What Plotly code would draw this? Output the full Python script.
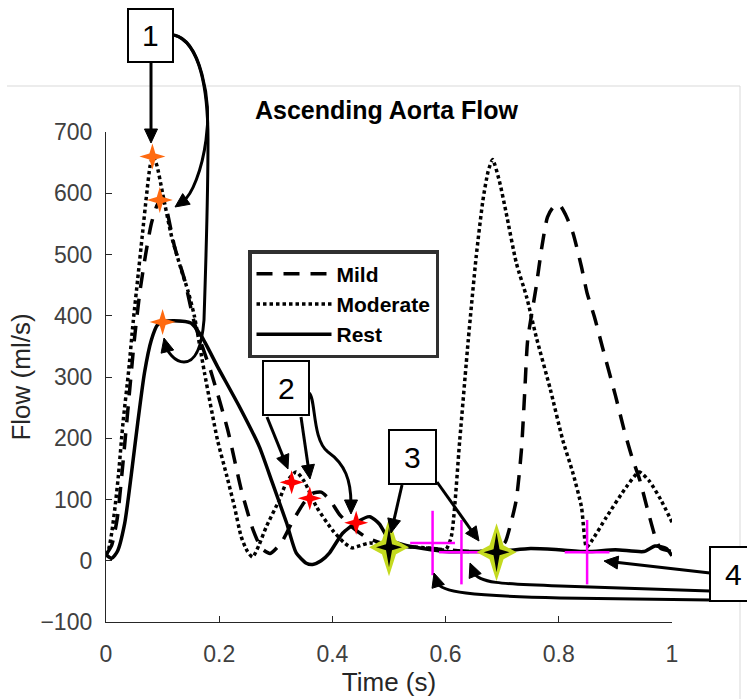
import math
import plotly.graph_objects as go

# ---- flow waveforms (ml/s) over one cardiac cycle ----
mild_t = [0.0, 0.01, 0.02, 0.03, 0.04, 0.05, 0.06, 0.07, 0.08, 0.09, 0.097, 0.105,
          0.121, 0.139, 0.156, 0.186, 0.215, 0.239, 0.26, 0.275, 0.29, 0.31, 0.33,
          0.35, 0.365, 0.38, 0.395, 0.413, 0.435, 0.46, 0.5, 0.55, 0.6, 0.65, 0.69,
          0.705, 0.715, 0.725, 0.734, 0.74, 0.745, 0.76, 0.77, 0.78, 0.79, 0.801,
          0.812, 0.825, 0.84, 0.85, 0.863, 0.877, 0.9, 0.915, 0.929, 0.943, 0.957,
          0.972, 0.98, 1.0]
mild_flow = [10, 25, 70, 160, 260, 360, 440, 500, 550, 580, 590, 580,
             513, 458, 389, 307, 214, 116, 50, 20, 12, 30, 65,
             95, 110, 112, 100, 75, 55, 38, 25, 22, 18, 15, 18,
             30, 60, 100, 181, 279, 360, 447, 512, 561, 577, 581,
             565, 535, 480, 437, 398, 349, 270, 215, 170, 132, 83,
             34, 20, 15]

moderate_t = [0.0, 0.005, 0.01, 0.016, 0.022, 0.03, 0.04, 0.048, 0.056, 0.064, 0.072,
              0.078, 0.083, 0.09, 0.1, 0.116, 0.133, 0.145, 0.156, 0.174, 0.197,
              0.213, 0.227, 0.239, 0.25, 0.259, 0.27, 0.283, 0.306, 0.32, 0.336,
              0.35, 0.372, 0.4, 0.42, 0.435, 0.45, 0.466, 0.5, 0.55, 0.58, 0.6,
              0.61, 0.625, 0.64, 0.654, 0.666, 0.675, 0.683, 0.695, 0.707, 0.725,
              0.743, 0.76, 0.785, 0.807, 0.825, 0.84, 0.849, 0.86, 0.884, 0.919,
              0.942, 0.96, 0.98, 1.0]
moderate_flow = [9, 20, 45, 88, 140, 225, 310, 390, 460, 530, 600,
                 645, 660, 645, 600, 529, 475, 440, 400, 307, 197,
                 140, 88, 39, 15, 6, 25, 55, 99, 130, 145,
                 130, 88, 50, 30, 21, 25, 29, 25, 22, 20, 18,
                 39, 197, 360, 496, 589, 635, 655, 620, 568, 486,
                 431, 366, 280, 197, 143, 88, 22, 35, 71, 120,
                 145, 130, 100, 63]

rest_t = [0.0, 0.01, 0.02, 0.033, 0.045, 0.056, 0.068, 0.08, 0.091, 0.1, 0.12,
          0.15, 0.169, 0.197, 0.236, 0.271, 0.294, 0.319, 0.336, 0.354, 0.365,
          0.38, 0.395, 0.418, 0.443, 0.466, 0.483, 0.5, 0.53, 0.56, 0.6, 0.65,
          0.7, 0.75, 0.8, 0.85, 0.9, 0.95, 0.97, 0.99, 1.0]
rest_flow = [10, 4, 15, 61, 143, 225, 307, 360, 385, 390, 392,
             388, 366, 317, 251, 186, 127, 62, 13, -4, -6,
             0, 13, 45, 63, 72, 60, 35, 25, 20, 15, 15,
             16, 20, 18, 15, 18, 15, 24, 20, 8]

# ---- highlighted feature points ----
peak_t = [0.082, 0.095, 0.10]
peak_flow = [660, 589, 390]
notch_t = [0.328, 0.36, 0.442]
notch_flow = [128, 102, 62]
valve_t = [0.50, 0.69]
valve_flow = [22, 14]
cycle_t = [0.577, 0.628, 0.85]
cycle_flow = [29, 14, 14]

x_ticks = [0, 0.2, 0.4, 0.6, 0.8, 1]
x_tick_text = ["0", "0.2", "0.4", "0.6", "0.8", "1"]
y_ticks = [-100, 0, 100, 200, 300, 400, 500, 600, 700]

# ---- page geometry ----
W, H = 747, 699
ML, MR, MT, MB = 106, 75, 132, 77
PW, PH = W - ML - MR, H - MT - MB
FONT = "Liberation Sans, Arial, sans-serif"


def px(x):
    return (x - ML) / PW


def py(y):
    return (MT + PH - y) / PH


def pt(x, y):
    return f"{px(x):.5f},{py(y):.5f}"


fig = go.Figure()

line_w = 3.5
fig.add_trace(go.Scatter(x=mild_t, y=mild_flow, mode="lines", name="Mild",
                         line=dict(color="black", width=line_w, dash="16px,11px",
                                   shape="spline", smoothing=0.6)))
fig.add_trace(go.Scatter(x=moderate_t, y=moderate_flow, mode="lines", name="Moderate",
                         line=dict(color="black", width=line_w, dash="3.5px,3px",
                                   shape="spline", smoothing=0.6)))
fig.add_trace(go.Scatter(x=rest_t, y=rest_flow, mode="lines", name="Rest",
                         line=dict(color="black", width=line_w,
                                   shape="spline", smoothing=0.6)))

# plus markers at the end-of-cycle points (tall vertical stroke, shorter bar)
fig.add_trace(go.Scatter(x=cycle_t, y=cycle_flow, mode="markers", showlegend=False,
                         marker=dict(symbol="line-ns", size=46, color="#FF00FF",
                                     line=dict(width=2.5, color="#FF00FF"))))
fig.add_trace(go.Scatter(x=cycle_t, y=cycle_flow, mode="markers", showlegend=False,
                         marker=dict(symbol="line-ew", size=32, color="#FF00FF",
                                     line=dict(width=2.5, color="#FF00FF"))))

shapes = []
annotations = []

# light figure frame
shapes.append(dict(type="line", xref="paper", yref="paper", x0=px(7), y0=py(86),
                   x1=px(740), y1=py(86), line=dict(color="#D9D9D9", width=1),
                   layer="below"))
shapes.append(dict(type="line", xref="paper", yref="paper", x0=px(740), y0=py(86),
                   x1=px(740), y1=py(699), line=dict(color="#D9D9D9", width=1),
                   layer="below"))


def add_stars(ts, vs, rx, ry, ri, color):
    """Thin four-point stars anchored at data points, sized in pixels."""
    path = (f"M 0,{-ry} L {ri},{-ri} L {rx},0 L {ri},{ri} L 0,{ry} "
            f"L {-ri},{ri} L {-rx},0 L {-ri},{-ri} Z")
    for t, v in zip(ts, vs):
        shapes.append(dict(type="path", xref="x", yref="y",
                           xsizemode="pixel", ysizemode="pixel",
                           xanchor=t, yanchor=v, path=path,
                           fillcolor=color, line=dict(width=0), layer="above"))


add_stars(peak_t, peak_flow, 13, 13, 3, "#FF6A10")
add_stars(notch_t, notch_flow, 12, 12, 2.8, "#FF0000")
add_stars(valve_t, valve_flow, 20, 29, 7, "#C4DA1F")
add_stars(valve_t, valve_flow, 13, 20, 3, "#000000")


def add_arrow(segs, head=14, half=6.5):
    """segs: ('M',x,y), ('L',x,y), ('C',x1,y1,x2,y2,x,y) in pixel units."""
    segs = [list(s) for s in segs]
    last = segs[-1]
    if last[0] == "L":
        prev = segs[-2][-2:]
    else:
        prev = last[3:5]
    ex, ey = last[-2], last[-1]
    dx, dy = ex - prev[0], ey - prev[1]
    n = math.hypot(dx, dy)
    ux, uy = dx / n, dy / n
    bx, by = ex - ux * head, ey - uy * head
    last[-2], last[-1] = ex - ux * head * 0.7, ey - uy * head * 0.7
    parts = []
    for s in segs:
        if s[0] in ("M", "L"):
            parts.append(f"{s[0]} {pt(s[1], s[2])}")
        else:
            parts.append(f"C {pt(s[1], s[2])} {pt(s[3], s[4])} {pt(s[5], s[6])}")
    shapes.append(dict(type="path", xref="paper", yref="paper", path=" ".join(parts),
                       line=dict(color="black", width=3), layer="above"))
    tri = (f"M {pt(ex, ey)} L {pt(bx - uy * half, by + ux * half)} "
           f"L {pt(bx + uy * half, by - ux * half)} Z")
    shapes.append(dict(type="path", xref="paper", yref="paper", path=tri,
                       fillcolor="black", line=dict(color="black", width=1),
                       layer="above"))


def add_box(x0, y0, x1, y1, label):
    shapes.append(dict(type="rect", xref="paper", yref="paper", x0=px(x0), y0=py(y0),
                       x1=px(x1), y1=py(y1), fillcolor="white",
                       line=dict(color="black", width=2), layer="above"))
    annotations.append(dict(xref="paper", yref="paper", x=px((x0 + x1) / 2),
                            y=py((y0 + y1) / 2), text=label, showarrow=False,
                            xanchor="center", yanchor="middle",
                            font=dict(family=FONT, size=30, color="black")))


# callout 1: systolic peaks
add_arrow([("M", 151, 62), ("L", 151, 143)])
add_arrow([("M", 174, 35), ("C", 200, 40, 212, 100, 206, 140),
           ("C", 202, 170, 192, 195, 175, 207)])
add_arrow([("M", 174, 35), ("C", 200, 42, 208, 90, 208, 140),
           ("C", 208, 200, 206, 260, 204, 320),
           ("C", 202, 345, 196, 362, 184, 362),
           ("C", 174, 362, 167, 350, 164, 338)])
# callout 2: dicrotic notches
add_arrow([("M", 267, 417), ("L", 288, 469)])
add_arrow([("M", 301, 417), ("L", 310, 479)])
add_arrow([("M", 309, 393), ("C", 316, 398, 312, 440, 328, 452),
           ("C", 345, 464, 351, 480, 351, 514)])
# callout 3: valve closure
add_arrow([("M", 402, 485), ("L", 391, 533)])
add_arrow([("M", 437, 482), ("L", 479, 541)])
# callout 4: end of cycle
add_arrow([("M", 710, 573), ("L", 604, 561)])
add_arrow([("M", 710, 591), ("L", 560, 586), ("C", 500, 584, 478, 583, 470, 563)])
add_arrow([("M", 710, 600), ("L", 560, 598), ("C", 470, 596, 440, 592, 434, 573)])

add_box(128, 9, 173, 62, "1")
add_box(263, 361, 309, 415, "2")
add_box(389, 430, 436, 484, "3")
add_box(710, 547, 756, 601, "4")

axis_common = dict(showline=True, linecolor="#262626", linewidth=1.3, ticks="inside",
                   ticklen=6, tickcolor="#262626", showgrid=False, zeroline=False,
                   tickfont=dict(family=FONT, size=23, color="#404040"),
                   automargin=False)

fig.update_layout(
    width=W, height=H,
    margin=dict(l=ML, r=MR, t=MT, b=MB, pad=0),
    paper_bgcolor="white", plot_bgcolor="white",
    title=dict(text="<b>Ascending Aorta Flow</b>", x=px(386.5), xref="paper",
               xanchor="center", y=1 - 110 / H, yref="container", yanchor="middle",
               font=dict(family=FONT, size=25, color="black")),
    xaxis=dict(range=[0, 1], tickvals=x_ticks, ticktext=x_tick_text,
               ticklabelstandoff=11,
               title=dict(text="Time (s)", standoff=7,
                          font=dict(family=FONT, size=26, color="#262626")),
               **axis_common),
    yaxis=dict(range=[-100, 700], tickvals=y_ticks, ticklabelstandoff=8,
               title=dict(text="Flow (ml/s)", standoff=2,
                          font=dict(family=FONT, size=26, color="#262626")),
               **axis_common),
    legend=dict(x=px(248), y=py(250), xanchor="left", yanchor="top",
                bgcolor="white", bordercolor="#303030", borderwidth=3.5,
                font=dict(family=FONT, size=21, color="black", weight="bold"),
                itemwidth=75, tracegroupgap=0),
    shapes=shapes,
    annotations=annotations,
    showlegend=True,
)

fig.write_html("out.html")
